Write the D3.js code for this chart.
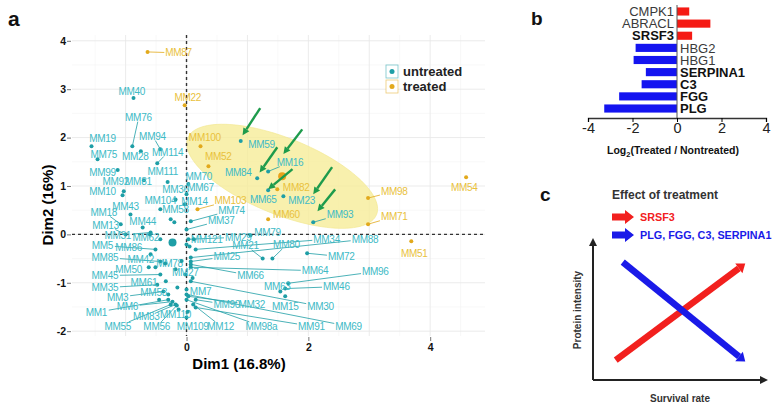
<!DOCTYPE html>
<html>
<head>
<meta charset="utf-8">
<script src="https://cdn.jsdelivr.net/npm/d3@7"></script>
<style>
  body { margin: 0; background: #fff; }
  svg text { font-family: "Liberation Sans", Arial, sans-serif; }
</style>
</head>
<body>
<svg id="fig" width="776" height="407"></svg>
<script>
// ---- panel a : PCA individuals  [name, dim1, dim2, labelDim1, labelDim2]
const treatedPoints = [
    ["MM87", -0.64, 3.77, -0.13, 3.75],
    ["MM22", -0.03, 2.67, 0.02, 2.82],
    ["MM100", 0.23, 1.82, 0.30, 2.01],
    ["MM52", 0.36, 1.41, 0.52, 1.61],
    ["MM82", 1.49, 0.93, 1.80, 0.97],
    ["MM103", 0.18, 0.52, 0.72, 0.70],
    ["MM60", 1.34, 0.31, 1.64, 0.41],
    ["MM98", 2.98, 0.75, 3.41, 0.89],
    ["MM71", 2.98, 0.21, 3.41, 0.37],
    ["MM54", 4.59, 1.18, 4.56, 0.97],
    ["MM51", 3.69, -0.14, 3.74, -0.39]
];

const untreatedPoints = [
    ["MM40", -0.87, 2.82, -0.90, 2.96], ["MM76", -0.89, 1.82, -0.79, 2.42],
    ["MM19", -1.56, 1.82, -1.38, 1.99], ["MM94", -0.43, 1.76, -0.56, 2.03],
    ["MM75", -1.46, 1.55, -1.36, 1.66], ["MM28", -0.75, 1.72, -0.84, 1.61],
    ["MM114", -0.48, 1.47, -0.31, 1.70], ["MM99", -1.13, 1.33, -1.38, 1.28],
    ["MM111", -0.31, 1.08, -0.39, 1.30], ["MM92", -1.03, 0.89, -1.16, 1.10],
    ["MM81", -0.70, 1.12, -0.79, 1.10], ["MM10", -1.05, 0.81, -1.38, 0.89],
    ["MM36", -0.18, 0.72, -0.18, 0.93], ["MM104", -0.43, 0.52, -0.43, 0.70],
    ["MM43", -0.92, 0.41, -1.00, 0.58], ["MM58", -0.26, 0.31, -0.18, 0.52],
    ["MM18", -1.08, 0.21, -1.36, 0.46], ["MM44", -0.72, 0.14, -0.72, 0.27],
    ["MM13", -1.00, 0.00, -1.33, 0.19], ["MM31", -0.59, 0.04, -1.13, -0.02],
    ["MM62", -0.43, -0.10, -0.67, -0.06], ["MM5", -0.51, -0.31, -1.38, -0.23],
    ["MM86", -0.59, -0.41, -0.95, -0.27], ["MM85", -0.43, -0.56, -1.34, -0.48],
    ["MM42", -0.51, -0.68, -0.75, -0.52], ["MM45", -0.43, -0.83, -1.34, -0.85],
    ["MM50", -0.62, -0.68, -0.95, -0.72], ["MM35", -0.48, -1.04, -1.34, -1.10],
    ["MM61", -0.34, -0.97, -0.70, -0.99], ["MM3", -0.38, -1.18, -1.13, -1.30],
    ["MM53", -0.30, -1.24, -0.54, -1.20], ["MM1", -0.30, -1.35, -1.48, -1.61],
    ["MM6", -0.23, -1.39, -0.97, -1.49], ["MM83", -0.18, -1.45, -0.66, -1.70],
    ["MM110", -0.13, -1.55, -0.18, -1.66], ["MM55", -0.26, -1.45, -1.13, -1.90],
    ["MM56", -0.16, -1.47, -0.49, -1.90], ["MM109", 0.00, -1.72, 0.10, -1.90],
    ["MM78", -0.18, -0.72, -0.28, -0.60], ["MM27", -0.02, -0.83, -0.02, -0.79],
    ["MM7", 0.00, -1.14, 0.23, -1.18], ["MM70", 0.03, 1.04, 0.20, 1.20],
    ["MM67", 0.00, 0.83, 0.23, 0.97], ["MM14", -0.03, 0.62, 0.13, 0.68],
    ["MM74", 0.07, 0.27, 0.74, 0.50], ["MM37", 0.00, 0.10, 0.57, 0.29],
    ["MM79", 1.05, -0.02, 1.33, 0.04], ["MM121", 0.00, -0.21, 0.33, -0.10],
    ["MM29", 0.03, -0.10, 0.85, -0.06], ["MM21", 1.25, -0.50, 0.97, -0.23],
    ["MM80", 1.41, -0.50, 1.64, -0.21], ["MM34", 0.15, -0.31, 2.30, -0.10],
    ["MM88", 0.07, -0.48, 2.93, -0.10], ["MM72", 1.98, -0.39, 2.54, -0.46],
    ["MM25", 0.07, -0.56, 0.66, -0.46], ["MM64", 0.07, -0.68, 2.11, -0.75],
    ["MM96", 1.67, -1.01, 3.10, -0.77], ["MM66", 0.07, -0.62, 1.05, -0.85],
    ["MM46", 1.62, -1.12, 2.46, -1.08], ["MM63", 1.54, -1.18, 1.49, -1.08],
    ["MM15", 1.62, -1.28, 1.62, -1.49], ["MM30", 0.07, -0.97, 2.20, -1.49],
    ["MM90", 0.15, -1.35, 0.66, -1.45], ["MM32", 0.03, -1.28, 1.07, -1.45],
    ["MM12", 0.11, -1.45, 0.56, -1.90], ["MM98a", 0.00, -1.35, 1.23, -1.90],
    ["MM91", 0.15, -1.51, 2.05, -1.90], ["MM69", 0.00, -1.24, 2.66, -1.90],
    ["MM59", 0.89, 1.93, 1.23, 1.86], ["MM84", 1.16, 1.16, 0.85, 1.28],
    ["MM16", 1.34, 1.30, 1.70, 1.49], ["MM65", 1.34, 0.91, 1.26, 0.72],
    ["MM23", 1.59, 0.79, 1.89, 0.70], ["MM93", 2.08, 0.25, 2.52, 0.41]
];

// unlabelled untreated points in the crowded centre
const untreatedExtra = [
    [0.05, -0.25], [-0.08, -0.55], [0.10, -0.90], [-0.15, -1.10], [0.02, -1.60],
    [-0.35, -0.60], [-0.60, 0.00], [-0.20, 0.25], [0.12, -0.10], [-0.45, -1.35]
];

const groupCentroids = [["untreated", -0.23, -0.17], ["treated", 1.57, 1.20]];

// concentration ellipse of the treated group (centre + two conjugate semi-axes)
const ellipseCenter = [1.57, 1.20];
const ellipseAxisA = [1.55, -0.79];
const ellipseAxisB = [-0.23, -0.73];

// green arrows [fromDim1, fromDim2, toDim1, toDim2]
const greenArrows = [
    [1.21, 2.61, 0.92, 2.05],
    [1.90, 2.17, 1.59, 1.66],
    [1.49, 1.80, 1.20, 1.28],
    [1.74, 1.35, 1.34, 0.93],
    [2.39, 1.39, 2.08, 0.83],
    [2.44, 0.93, 2.15, 0.48]
];

const dim1Ticks = [0, 2, 4];
const dim2Ticks = [-2, -1, 0, 1, 2, 3, 4];

// ---- panel b : log2 ratios
const genes = ["CMPK1", "ABRACL", "SRSF3", "HBG2", "HBG1", "SERPINA1", "C3", "FGG", "PLG"];
const log2Ratio = [0.55, 1.50, 0.68, -1.86, -1.95, -1.40, -1.59, -2.60, -3.27];
const boldGenes = ["SRSF3", "SERPINA1", "C3", "FGG", "PLG"];
const log2Ticks = [-4, -2, 0, 2, 4];

// ---- panel c : schematic trends (unit space)
const upTrend = [[0.13, 0.14], [0.87, 0.82]];
const downTrend = [[0.17, 0.83], [0.87, 0.13]];
const effectLegend = [
    {label: "SRSF3", color: "#f2201e"},
    {label: "PLG, FGG, C3, SERPINA1", color: "#1a1ae8"}
];

const TEAL_DOT = "#1e9ea6", TEAL_TXT = "#40bac6", GOLD_DOT = "#e2a91c", GOLD_TXT = "#e9c13c";

const svg = d3.select("#fig");

function arrowHeadPath(x1, y1, x2, y2, len, half) {
    const a = Math.atan2(y2 - y1, x2 - x1);
    const bx = x2 - len * Math.cos(a), by = y2 - len * Math.sin(a);
    const nx = -Math.sin(a) * half, ny = Math.cos(a) * half;
    return {base: [bx, by], d: `M${x2},${y2}L${bx + nx},${by + ny}L${bx - nx},${by - ny}Z`};
}

//==================== panel a ====================
const x = d3.scaleLinear().domain([-1.88, 4.9]).range([72, 485]);
const y = d3.scaleLinear().domain([4.12, -2.1]).range([35, 336]);

const pa = svg.append("g");

// grid
const minorX = d3.range(-1.5, 4.6, 1), minorY = d3.range(-1.5, 4.1, 1);
const majorX = d3.range(-1, 4.1, 1), majorY = d3.range(-2, 4.1, 1);
pa.append("g").selectAll("line").data(minorX).enter().append("line")
    .attr("x1", d => x(d)).attr("x2", d => x(d)).attr("y1", y.range()[0]).attr("y2", y.range()[1])
    .attr("stroke", "#f3f3f3").attr("stroke-width", 0.6);
pa.append("g").selectAll("line").data(minorY).enter().append("line")
    .attr("y1", d => y(d)).attr("y2", d => y(d)).attr("x1", x.range()[0]).attr("x2", x.range()[1])
    .attr("stroke", "#f3f3f3").attr("stroke-width", 0.6);
pa.append("g").selectAll("line").data(majorX).enter().append("line")
    .attr("x1", d => x(d)).attr("x2", d => x(d)).attr("y1", y.range()[0]).attr("y2", y.range()[1])
    .attr("stroke", "#e9e9e9").attr("stroke-width", 0.9);
pa.append("g").selectAll("line").data(majorY).enter().append("line")
    .attr("y1", d => y(d)).attr("y2", d => y(d)).attr("x1", x.range()[0]).attr("x2", x.range()[1])
    .attr("stroke", "#e9e9e9").attr("stroke-width", 0.9);

// ellipse
const ellipsePts = d3.range(0, 2 * Math.PI + 0.01, Math.PI / 60).map(t => [
    ellipseCenter[0] + Math.cos(t) * ellipseAxisA[0] + Math.sin(t) * ellipseAxisB[0],
    ellipseCenter[1] + Math.cos(t) * ellipseAxisA[1] + Math.sin(t) * ellipseAxisB[1]
]);
pa.append("path")
    .attr("d", d3.line().x(d => x(d[0])).y(d => y(d[1]))(ellipsePts))
    .attr("fill", "#f6ec98").attr("fill-opacity", 0.8)
    .attr("stroke", "#f1e58a").attr("stroke-width", 0.6);

// dashed reference lines
pa.append("line").attr("x1", x(0)).attr("x2", x(0)).attr("y1", y.range()[0]).attr("y2", y.range()[1])
    .attr("stroke", "#333").attr("stroke-width", 1.4).attr("stroke-dasharray", "3,3");
pa.append("line").attr("y1", y(0)).attr("y2", y(0)).attr("x1", x.range()[0]).attr("x2", x.range()[1])
    .attr("stroke", "#333").attr("stroke-width", 1.4).attr("stroke-dasharray", "3,3");

// axes
const axL = pa.append("g").attr("transform", `translate(${x.range()[0] - 1},0)`)
    .call(d3.axisLeft(y).tickValues(dim2Ticks).tickSize(4).tickPadding(1).tickFormat(d => String(d)));
const axB = pa.append("g").attr("transform", `translate(0,${y.range()[1] + 1})`)
    .call(d3.axisBottom(x).tickValues(dim1Ticks).tickSize(4).tickPadding(3).tickFormat(d => String(d)));
[axL, axB].forEach(ax => {
    ax.select(".domain").remove();
    ax.selectAll(".tick line").attr("stroke", "#777");
    ax.selectAll("text").attr("font-size", 10.5).attr("font-weight", "bold").attr("fill", "#111")
        .style("font-family", "Liberation Sans, Arial, sans-serif");
});

pa.append("text").attr("x", 239).attr("y", 369).attr("text-anchor", "middle")
    .attr("font-size", 15).attr("font-weight", "bold").text("Dim1 (16.8%)");
pa.append("text").attr("transform", "translate(53,205) rotate(-90)").attr("text-anchor", "middle")
    .attr("font-size", 15).attr("font-weight", "bold").text("Dim2 (16%)");

// labels with repel-style segments (short ones are dropped, like ggrepel)
function drawGroup(points, dotColor, txtColor) {
    const g = pa.append("g");
    const segs = g.append("g"), dots = g.append("g"), labs = g.append("g");
    points.forEach(p => {
        const px = x(p[1]), py = y(p[2]);
        const t = labs.append("text")
            .attr("x", x(p[3])).attr("y", y(p[4])).attr("dy", "0.35em")
            .attr("text-anchor", "middle")
            .attr("font-size", 10).attr("fill", txtColor)
            .style("letter-spacing", "-0.3px")
            .text(p[0]);
        const bb = t.node().getBBox();
        const cx = bb.x + bb.width / 2, cy = bb.y + bb.height / 2;
        const dx = px - cx, dy = py - cy;
        const hw = bb.width / 2 + 1, hh = bb.height * 0.4;
        const tt = Math.min(dx ? hw / Math.abs(dx) : Infinity, dy ? hh / Math.abs(dy) : Infinity);
        if (tt < 1) {
            const ex = cx + dx * tt, ey = cy + dy * tt;
            const len = Math.hypot(px - ex, py - ey);
            if (len > 9 && len < 400) {
                segs.append("line").attr("x1", px).attr("y1", py).attr("x2", ex).attr("y2", ey)
                    .attr("stroke", dotColor).attr("stroke-width", 0.8);
            }
        }
        dots.append("circle").attr("cx", px).attr("cy", py).attr("r", 2).attr("fill", dotColor);
    });
}
drawGroup(untreatedPoints, TEAL_DOT, TEAL_TXT);
pa.append("g").selectAll("circle").data(untreatedExtra).enter().append("circle")
    .attr("cx", d => x(d[0])).attr("cy", d => y(d[1])).attr("r", 2).attr("fill", TEAL_DOT);
drawGroup(treatedPoints, GOLD_DOT, GOLD_TXT);

pa.append("g").selectAll("circle").data(groupCentroids).enter().append("circle")
    .attr("cx", d => x(d[1])).attr("cy", d => y(d[2])).attr("r", 4)
    .attr("fill", d => d[0] === "treated" ? "#eaa21a" : TEAL_DOT);

// green arrows
greenArrows.forEach(a => {
    const x1 = x(a[0]), y1 = y(a[1]), x2 = x(a[2]), y2 = y(a[3]);
    const head = arrowHeadPath(x1, y1, x2, y2, 7, 3.5);
    pa.append("line").attr("x1", x1).attr("y1", y1).attr("x2", head.base[0]).attr("y2", head.base[1])
        .attr("stroke", "#1e9b4c").attr("stroke-width", 2.4);
    pa.append("path").attr("d", head.d).attr("fill", "#1e9b4c");
});

// legend
const legA = pa.append("g").attr("transform", "translate(386,65)");
[["untreated", TEAL_DOT], ["treated", GOLD_DOT]].forEach((d, i) => {
    const r = legA.append("g").attr("transform", `translate(0,${i * 15})`);
    r.append("rect").attr("width", 12).attr("height", 13).attr("fill", "#fff")
        .attr("stroke", d[1]).attr("stroke-opacity", 0.6).attr("stroke-width", 0.8);
    r.append("circle").attr("cx", 6).attr("cy", 6.5).attr("r", 2.5).attr("fill", d[1]);
    r.append("text").attr("x", 17).attr("y", 11).attr("font-size", 13).attr("font-weight", "bold")
        .attr("fill", "#222").text(d[0]);
});

//==================== panel b ====================
const xb = d3.scaleLinear().domain([-4, 4]).range([588, 766]);
const yb = d3.scaleBand().domain(genes).range([5, 115]).paddingInner(0.33).paddingOuter(0.2);
const pb = svg.append("g");

pb.selectAll(".bar").data(genes).enter().append("rect")
    .attr("x", (d, i) => Math.min(xb(0), xb(log2Ratio[i])))
    .attr("width", (d, i) => Math.abs(xb(log2Ratio[i]) - xb(0)))
    .attr("y", d => yb(d)).attr("height", yb.bandwidth())
    .attr("fill", (d, i) => log2Ratio[i] > 0 ? "#f51a14" : "#1414f0");

pb.selectAll(".glab").data(genes).enter().append("text")
    .attr("x", (d, i) => log2Ratio[i] > 0 ? xb(0) - 3 : xb(0) + 3)
    .attr("y", d => yb(d) + yb.bandwidth() / 2).attr("dy", "0.36em")
    .attr("text-anchor", (d, i) => log2Ratio[i] > 0 ? "end" : "start")
    .attr("font-size", 13)
    .attr("font-weight", d => boldGenes.includes(d) ? "bold" : "normal")
    .attr("fill", d => boldGenes.includes(d) ? "#111" : "#3a3a3a")
    .text(d => d);

pb.append("line").attr("x1", xb(0)).attr("x2", xb(0)).attr("y1", 5).attr("y2", 118)
    .attr("stroke", "#555").attr("stroke-width", 1);
const axb = pb.append("g").attr("transform", "translate(0,118)")
    .call(d3.axisBottom(xb).tickValues(log2Ticks).tickSize(4).tickPadding(1).tickFormat(d => String(d)));
axb.select(".domain").attr("stroke", "#333").attr("stroke-width", 1.3);
axb.selectAll("text").attr("font-size", 14.5).attr("fill", "#222")
    .style("font-family", "Liberation Sans, Arial, sans-serif");

const bt = pb.append("text").attr("x", 673).attr("y", 154).attr("text-anchor", "middle")
    .attr("font-size", 10.5).attr("font-weight", "bold").attr("fill", "#111");
bt.append("tspan").text("Log");
bt.append("tspan").attr("font-size", 7.5).attr("dy", 3).text("2");
bt.append("tspan").attr("dy", -3).text("(Treated / Nontreated)");

//==================== panel c ====================
const xc = d3.scaleLinear().domain([0, 1]).range([593, 768]);
const yc = d3.scaleLinear().domain([0, 1]).range([380, 238]);
const pc = svg.append("g");

// axes with arrow heads
function arrowLine(g, x1, y1, x2, y2, color, width, len, half) {
    const head = arrowHeadPath(x1, y1, x2, y2, len, half);
    g.append("line").attr("x1", x1).attr("y1", y1).attr("x2", head.base[0]).attr("y2", head.base[1])
        .attr("stroke", color).attr("stroke-width", width);
    g.append("path").attr("d", head.d).attr("fill", color);
}
arrowLine(pc, xc(0), yc(0), xc(0), yc(1), "#222", 2, 8, 4);
arrowLine(pc, xc(0), yc(0), xc(1), yc(0), "#222", 2, 8, 4);

arrowLine(pc, xc(upTrend[0][0]), yc(upTrend[0][1]), xc(upTrend[1][0]), yc(upTrend[1][1]), "#f2201e", 6.5, 8, 6);
arrowLine(pc, xc(downTrend[0][0]), yc(downTrend[0][1]), xc(downTrend[1][0]), yc(downTrend[1][1]), "#1a1ae8", 6.5, 8, 6);

pc.append("text").attr("transform", "translate(581,310) rotate(-90)").attr("text-anchor", "middle")
    .attr("font-size", 10).attr("font-weight", "bold").attr("fill", "#333").text("Protein intensity");
pc.append("text").attr("x", 680).attr("y", 402).attr("text-anchor", "middle")
    .attr("font-size", 10).attr("font-weight", "bold").attr("fill", "#333").text("Survival rate");

pc.append("text").attr("x", 612).attr("y", 199).attr("font-size", 12).attr("font-weight", "bold")
    .attr("fill", "#333").text("Effect of treatment");
effectLegend.forEach((d, i) => {
    const yy = 217 + i * 18;
    pc.append("path")
        .attr("d", `M612,${yy - 3.5}h13v-3.5l9,7l-9,7v-3.5h-13Z`)
        .attr("fill", d.color);
    pc.append("text").attr("x", 640).attr("y", yy + 4).attr("font-size", 10.8).attr("font-weight", "bold")
        .attr("fill", d.color).text(d.label);
});

// panel letters
[["a", 8, 26, 21], ["b", 531, 25, 19], ["c", 540, 201, 19]].forEach(d => {
    svg.append("text").attr("x", d[1]).attr("y", d[2]).attr("font-size", d[3])
        .attr("font-weight", "bold").attr("fill", "#111").text(d[0]);
});
</script>
</body>
</html>
